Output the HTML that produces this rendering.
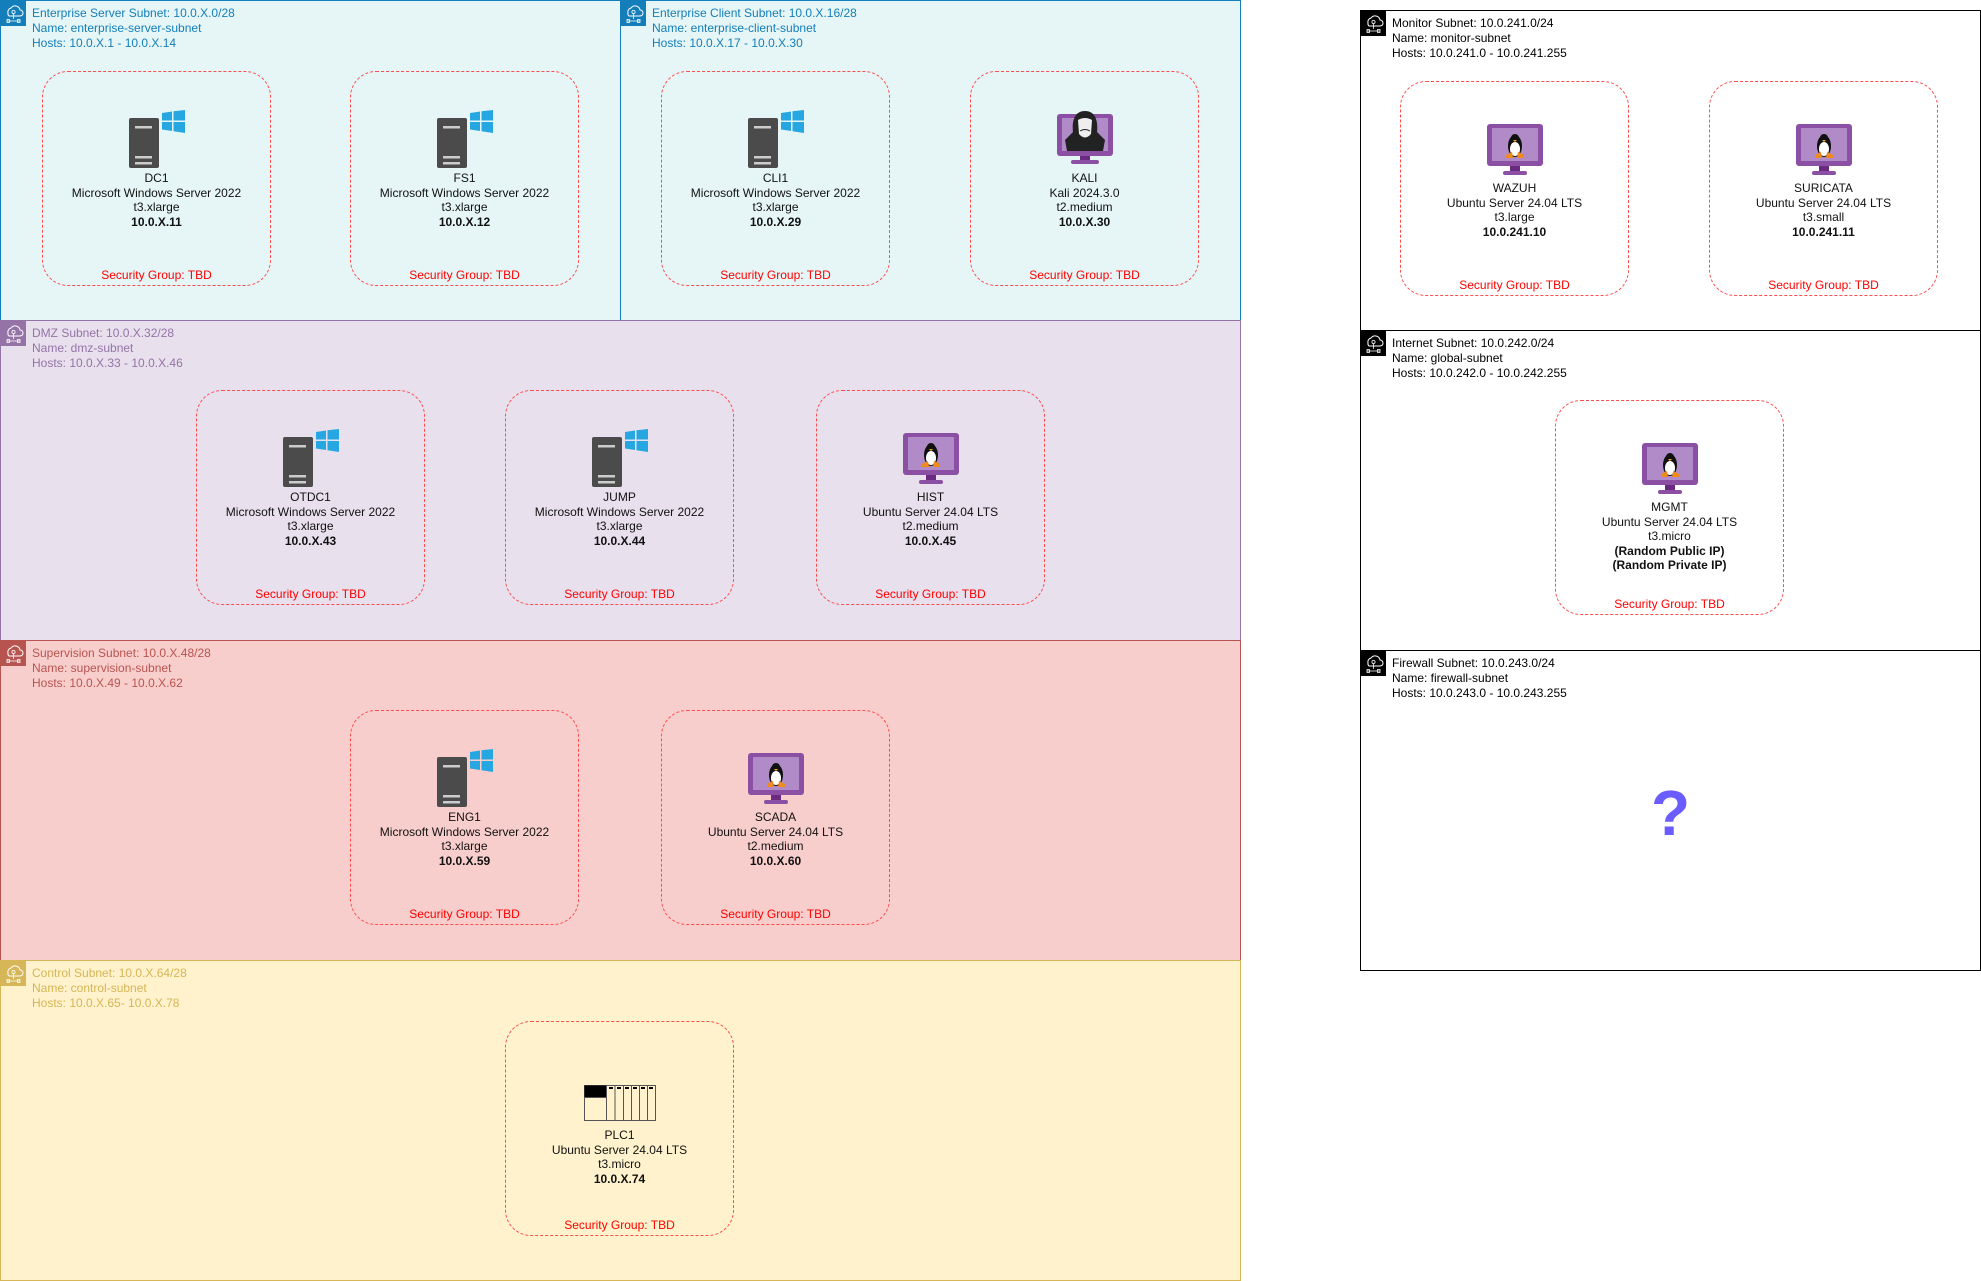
<!DOCTYPE html>
<html><head><meta charset="utf-8"><style>
*{margin:0;padding:0;box-sizing:border-box}
body{width:1981px;height:1281px;background:#fff;position:relative;font-family:"Liberation Sans",Arial,sans-serif;overflow:hidden}
.sub{position:absolute;border:1.5px solid}
.hdr{position:absolute;left:0;top:0;width:25px;height:25px}
.ht{position:absolute;left:31px;top:5px;font-size:12px;line-height:15px}
.box{position:absolute;width:229px;height:215px;border:1.5px dashed #ff4d4d;border-radius:26px}
.ic{position:absolute;left:0;right:0;top:38px;text-align:center;height:60px}
.tx{position:absolute;left:0;right:0;top:99px;text-align:center;font-size:12px;line-height:14.5px;color:#111}
.tx b{font-weight:bold}
.sg{position:absolute;left:0;right:0;bottom:2px;text-align:center;font-size:12px;color:#f00;line-height:15px}
</style></head><body>
<svg width="0" height="0" style="position:absolute"><defs>
<g id="srv"><rect x="0" y="8" width="30" height="50" rx="2" fill="#4b4b4b"/><rect x="6" y="16" width="17" height="2.5" fill="#ccc"/><rect x="6" y="46" width="17" height="2.5" fill="#ccc"/><rect x="6" y="52" width="17" height="2.5" fill="#ccc"/>
<path d="M33 3 L43 1.5 V10.5 H33Z M44.5 1.3 L56 0 V10.5 H44.5Z M33 12 H43 V21 L33 19.5Z M44.5 12 H56 V23 L44.5 21.2Z" fill="#27a7e1"/></g>
<g id="mon"><rect x="0" y="0" width="56" height="42" rx="3" fill="#8b4fa3"/><rect x="5" y="4" width="46" height="33" fill="#b08bc8"/><rect x="23" y="42" width="10" height="6" fill="#6a2a82"/><rect x="16" y="47" width="24" height="4" rx="2" fill="#8b4fa3"/>
<ellipse cx="28" cy="22" rx="7" ry="11" fill="#111"/><ellipse cx="28" cy="25" rx="5" ry="7" fill="#fff"/><circle cx="28" cy="14" r="4" fill="#111"/><path d="M26 16 L30 16 L28 18Z" fill="#f7a21b"/><path d="M19 31 L25 28 L26 34 L19 34Z M37 31 L31 28 L30 34 L37 34Z" fill="#f08a1a"/></g>
<g id="hic"><rect width="25" height="25" fill="currentColor"/><path d="M7 12 a4 4 0 0 1 3-5 a5 5 0 0 1 9 2 a3 3 0 0 1 0 6 H8 a3 3 0 0 1-1-3Z" fill="none" stroke="#fff" stroke-width="1"/><circle cx="12.5" cy="11" r="1.6" fill="none" stroke="#fff" stroke-width="0.8"/><path d="M12.5 13 V18 M6 20 H19 M6 18.5 h2.5 v3 h-2.5z M16.5 18.5 h2.5 v3 h-2.5z" stroke="#fff" stroke-width="0.8" fill="none"/></g>
</defs></svg>

<div class="sub" style="left:0;top:0;width:621px;height:321px;background:#e6f6f7;border-color:#147eba;color:#147eba"><svg class="hdr" style="color:#147eba"><use href="#hic"/></svg><div class="ht">Enterprise Server Subnet: 10.0.X.0/28<br>Name: enterprise-server-subnet<br>Hosts: 10.0.X.1 - 10.0.X.14</div></div>
<div class="sub" style="left:620px;top:0;width:621px;height:321px;background:#e6f6f7;border-color:#147eba;color:#147eba"><svg class="hdr" style="color:#147eba"><use href="#hic"/></svg><div class="ht">Enterprise Client Subnet: 10.0.X.16/28<br>Name: enterprise-client-subnet<br>Hosts: 10.0.X.17 - 10.0.X.30</div></div>
<div class="sub" style="left:0;top:320px;width:1241px;height:321px;background:#e8e0ed;border-color:#9673a6;color:#9673a6"><svg class="hdr" style="color:#9673a6"><use href="#hic"/></svg><div class="ht">DMZ Subnet: 10.0.X.32/28<br>Name: dmz-subnet<br>Hosts: 10.0.X.33 - 10.0.X.46</div></div>
<div class="sub" style="left:0;top:640px;width:1241px;height:321px;background:#f8cecc;border-color:#b85450;color:#b85450"><svg class="hdr" style="color:#b85450"><use href="#hic"/></svg><div class="ht">Supervision Subnet: 10.0.X.48/28<br>Name: supervision-subnet<br>Hosts: 10.0.X.49 - 10.0.X.62</div></div>
<div class="sub" style="left:0;top:960px;width:1241px;height:321px;background:#fff2cc;border-color:#d6b656;color:#d6b656"><svg class="hdr" style="color:#d6b656"><use href="#hic"/></svg><div class="ht">Control Subnet: 10.0.X.64/28<br>Name: control-subnet<br>Hosts: 10.0.X.65- 10.0.X.78</div></div>

<div class="sub" style="left:1360px;top:10px;width:621px;height:321px;background:#fff;border-color:#000;color:#000"><svg class="hdr" style="color:#000"><use href="#hic"/></svg><div class="ht">Monitor Subnet: 10.0.241.0/24<br>Name: monitor-subnet<br>Hosts: 10.0.241.0 - 10.0.241.255</div></div>
<div class="sub" style="left:1360px;top:330px;width:621px;height:321px;background:#fff;border-color:#000;color:#000"><svg class="hdr" style="color:#000"><use href="#hic"/></svg><div class="ht">Internet Subnet: 10.0.242.0/24<br>Name: global-subnet<br>Hosts: 10.0.242.0 - 10.0.242.255</div></div>
<div class="sub" style="left:1360px;top:650px;width:621px;height:321px;background:#fff;border-color:#000;color:#000"><svg class="hdr" style="color:#000"><use href="#hic"/></svg><div class="ht">Firewall Subnet: 10.0.243.0/24<br>Name: firewall-subnet<br>Hosts: 10.0.243.0 - 10.0.243.255</div></div>
<div style="position:absolute;left:1651px;top:777px;font-size:64px;font-weight:bold;color:#6a5cff;line-height:72px">?</div>

<div class="box" style="left:42px;top:71px"><div class="ic"><svg width="56" height="60"><use href="#srv"/></svg></div><div class="tx">DC1<br>Microsoft Windows Server 2022<br>t3.xlarge<br><b>10.0.X.11</b></div><div class="sg">Security Group: TBD</div></div>
<div class="box" style="left:350px;top:71px"><div class="ic"><svg width="56" height="60"><use href="#srv"/></svg></div><div class="tx">FS1<br>Microsoft Windows Server 2022<br>t3.xlarge<br><b>10.0.X.12</b></div><div class="sg">Security Group: TBD</div></div>
<div class="box" style="left:661px;top:71px"><div class="ic"><svg width="56" height="60"><use href="#srv"/></svg></div><div class="tx">CLI1<br>Microsoft Windows Server 2022<br>t3.xlarge<br><b>10.0.X.29</b></div><div class="sg">Security Group: TBD</div></div>
<div class="box" style="left:970px;top:71px"><div class="ic" style="top:38px"><svg width="56" height="56"><rect x="0" y="4" width="56" height="42" rx="3" fill="#8b4fa3"/><rect x="5" y="8" width="46" height="33" fill="#b08bc8"/><rect x="23" y="46" width="10" height="5" fill="#6a2a82"/><rect x="14" y="50" width="28" height="4" rx="2" fill="#8b4fa3"/><path d="M28 1 C16 1 15 14 16 22 L8 30 L10 41 H46 L48 30 L40 22 C41 14 40 1 28 1Z" fill="#222"/><path d="M21 10 Q28 6 35 10 L34 24 Q28 31 22 24Z" fill="#eee"/><path d="M23 21 Q28 18 33 21" stroke="#222" fill="none"/></svg></div><div class="tx">KALI<br>Kali 2024.3.0<br>t2.medium<br><b>10.0.X.30</b></div><div class="sg">Security Group: TBD</div></div>

<div class="box" style="left:196px;top:390px"><div class="ic"><svg width="56" height="60"><use href="#srv"/></svg></div><div class="tx">OTDC1<br>Microsoft Windows Server 2022<br>t3.xlarge<br><b>10.0.X.43</b></div><div class="sg">Security Group: TBD</div></div>
<div class="box" style="left:505px;top:390px"><div class="ic"><svg width="56" height="60"><use href="#srv"/></svg></div><div class="tx">JUMP<br>Microsoft Windows Server 2022<br>t3.xlarge<br><b>10.0.X.44</b></div><div class="sg">Security Group: TBD</div></div>
<div class="box" style="left:816px;top:390px"><div class="ic" style="top:42px"><svg width="56" height="52"><use href="#mon"/></svg></div><div class="tx">HIST<br>Ubuntu Server 24.04 LTS<br>t2.medium<br><b>10.0.X.45</b></div><div class="sg">Security Group: TBD</div></div>

<div class="box" style="left:350px;top:710px"><div class="ic"><svg width="56" height="60"><use href="#srv"/></svg></div><div class="tx">ENG1<br>Microsoft Windows Server 2022<br>t3.xlarge<br><b>10.0.X.59</b></div><div class="sg">Security Group: TBD</div></div>
<div class="box" style="left:661px;top:710px"><div class="ic" style="top:42px"><svg width="56" height="52"><use href="#mon"/></svg></div><div class="tx">SCADA<br>Ubuntu Server 24.04 LTS<br>t2.medium<br><b>10.0.X.60</b></div><div class="sg">Security Group: TBD</div></div>

<div class="box" style="left:505px;top:1021px"><div class="ic" style="top:63px"><svg width="72" height="36"><rect x="0.5" y="0.5" width="71" height="35" fill="none" stroke="#555"/><rect x="0.5" y="0.5" width="22" height="12" fill="#000"/><path d="M22.5 0.5 V35.5 M31 0.5 V35.5 M39.5 0.5 V35.5 M47.5 0.5 V35.5 M55.5 0.5 V35.5 M63.5 0.5 V35.5 M0.5 12.5 H22.5" stroke="#555"/><path d="M25 3 H29 M33 3 H37 M41 3 H45 M49 3 H53 M57 3 H61 M65 3 H69" stroke="#000" stroke-width="2"/></svg></div><div class="tx" style="top:106px">PLC1<br>Ubuntu Server 24.04 LTS<br>t3.micro<br><b>10.0.X.74</b></div><div class="sg">Security Group: TBD</div></div>

<div class="box" style="left:1400px;top:81px"><div class="ic" style="top:42px"><svg width="56" height="52"><use href="#mon"/></svg></div><div class="tx">WAZUH<br>Ubuntu Server 24.04 LTS<br>t3.large<br><b>10.0.241.10</b></div><div class="sg">Security Group: TBD</div></div>
<div class="box" style="left:1709px;top:81px"><div class="ic" style="top:42px"><svg width="56" height="52"><use href="#mon"/></svg></div><div class="tx">SURICATA<br>Ubuntu Server 24.04 LTS<br>t3.small<br><b>10.0.241.11</b></div><div class="sg">Security Group: TBD</div></div>
<div class="box" style="left:1555px;top:400px"><div class="ic" style="top:42px"><svg width="56" height="52"><use href="#mon"/></svg></div><div class="tx">MGMT<br>Ubuntu Server 24.04 LTS<br>t3.micro<br><b>(Random Public IP)</b><br><b>(Random Private IP)</b></div><div class="sg">Security Group: TBD</div></div>
</body></html>
